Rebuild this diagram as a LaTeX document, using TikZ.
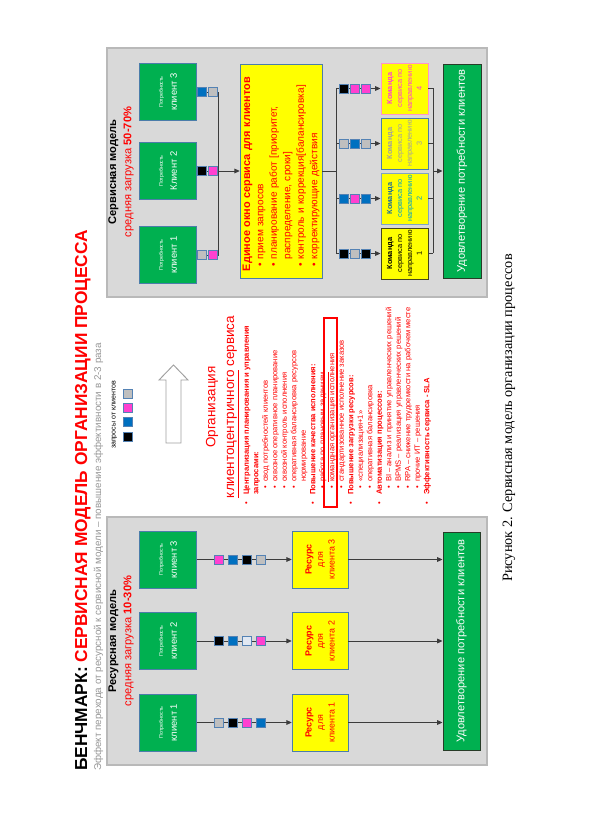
\documentclass[tikz,border=0pt]{standalone}
\usepackage{fontspec}
\setmainfont{Liberation Sans}
\newfontfamily\capfont{Liberation Serif}
\usetikzlibrary{arrows.meta}

\definecolor{slgreen}{RGB}{0,176,80}
\definecolor{slyellow}{RGB}{255,255,0}
\definecolor{panelgray}{RGB}{217,217,217}
\definecolor{panelline}{RGB}{185,185,185}
\definecolor{sqblue}{RGB}{0,112,192}
\definecolor{sqpink}{RGB}{255,64,208}
\definecolor{sqgray}{RGB}{191,191,191}
\definecolor{sqwhite}{RGB}{225,232,242}
\definecolor{sqedge}{RGB}{84,130,180}
\definecolor{boxedge}{RGB}{75,125,170}
\definecolor{satedge}{RGB}{40,60,40}
\definecolor{conn}{RGB}{60,60,60}
\definecolor{subgray}{RGB}{150,150,150}
\definecolor{tdark}{RGB}{31,110,150}
\definecolor{tlight}{RGB}{0,160,200}
\definecolor{tgray}{RGB}{160,160,160}
\definecolor{tpinkedge}{RGB}{255,150,200}
\definecolor{toneedge}{RGB}{70,70,30}

\newcommand{\topitem}[1]{\makebox[8.5pt][l]{\textbullet}#1}
\newcommand{\topcont}[1]{\hspace*{8.5pt}#1}
\newcommand{\lowitem}[1]{\hspace*{13.5pt}\makebox[6pt][l]{\textbullet}#1}
\newcommand{\lowcont}[1]{\hspace*{19.5pt}#1}
\newcommand{\winitem}[1]{\makebox[10pt][l]{\hspace{4pt}\textbullet}#1}

\begin{document}
\begin{tikzpicture}[x=0.03cm, y=-0.03cm,
    panel/.style={fill=panelgray, draw=panelline, line width=1pt},
    need/.style={rotate=90, fill=slgreen, draw=boxedge, minimum width=1.7cm, minimum height=1.7cm, align=center, text=white, inner sep=1pt, font=\fontsize{8}{12}\selectfont},
    res/.style={rotate=90, fill=slyellow, draw=boxedge, minimum width=1.71cm, minimum height=1.68cm, align=center, text=red, inner sep=1pt, font=\fontsize{7.6}{9.8}\selectfont},
    sat/.style={rotate=90, fill=slgreen, draw=satedge, line width=0.8pt, text=white, inner sep=1pt, font=\fontsize{9.5}{11}\selectfont},
    team/.style={rotate=90, fill=slyellow, minimum width=1.53cm, minimum height=1.41cm, align=center, inner sep=1pt, line width=0.8pt, font=\fontsize{6.3}{8.5}\selectfont},
    win/.style={rotate=90, fill=slyellow, draw=boxedge, minimum width=6.42cm, minimum height=2.46cm, text width=6.0cm, align=left, text=red, inner sep=1pt, font=\fontsize{8.6}{11.5}\selectfont},
    sq/.style={draw=sqedge, line width=0.5pt, minimum size=0.27cm, inner sep=0pt},
    wire/.style={draw=conn, line width=0.7pt},
    arrow/.style={wire, -{Triangle[length=1.6mm, width=1.4mm]}}
]
\useasboundingbox (0,0) rectangle (591,825);

% title
\node[rotate=90, anchor=base west, inner sep=0pt, font=\bfseries\fontsize{14.8}{17}\selectfont] (title) at (87,771) {БЕНЧМАРК: \textcolor{red}{СЕРВИСНАЯ МОДЕЛЬ ОРГАНИЗАЦИИ ПРОЦЕССА}};
\node[rotate=90, anchor=base west, inner sep=0pt, text=subgray, font=\fontsize{8.4}{10}\selectfont] (subtitle) at (101,771) {Эффект перехода от ресурсной к сервисной модели – повышение эффективности в 2-3 раза};

% service model
\draw[panel] (107,48) rectangle (487,297);
\node[rotate=90, align=center, font=\fontsize{9.5}{13}\selectfont] (stitle) at (121,172) {\textbf{Сервисная модель}\\\textcolor{red}{средняя загрузка \textbf{50-70\%}}};
\foreach \n/\y/\t in {1/255/клиент 1, 2/171/Клиент 2, 3/92/клиент 3}
  \node[need] (sn\n) at (168,\y) {{\fontsize{4.5}{5}\selectfont Потребность}\\\t};
\node[win] (win) at (281,171) {{\bfseries\fontsize{9.3}{11.5}\selectfont Единое окно сервиса для клиентов}\\
  \winitem{прием запросов}\\
  \winitem{планирование работ [приоритет,}\\
  \hspace*{10pt}распределение, сроки]\\
  \winitem{контроль и коррекция[балансировка]}\\
  \winitem{корректирующие действия}};
\node[team, draw=toneedge, text=black] (t1) at (404.5,253.5) {\textbf{Команда}\\сервиса по\\направлению\\1};
\node[team, draw=boxedge!70, text=tlight] (t2) at (404.5,198.5) {\textcolor{tdark}{\textbf{Команда}}\\сервиса по\\направлению\\2};
\node[team, draw=boxedge, text=tgray] (t3) at (404.5,143.5) {\textbf{Команда}\\сервиса по\\направлению\\3};
\node[team, draw=tpinkedge, text=sqpink] (t4) at (404.5,88.5) {\textbf{Команда}\\сервиса по\\направлению\\4};
\node[sat, minimum width=6.42cm, minimum height=1.14cm] (ss) at (462,171) {Удовлетворение потребности клиентов};

\coordinate (busa) at (218,171);
\coordinate (busb) at (336,171);
\coordinate (busc) at (433,171);
\draw[wire] (sn1) -- (sn1 -| busa) -- (sn3 -| busa) -- (sn3);
\draw[wire] (sn2) -- (busa);
\draw[arrow] (busa) -- (win);
\draw[wire] (win) -- (busb);
\draw[wire] (t4 -| busb) -- (t1 -| busb);
\draw[wire] (t4 -| busc) -- (t1 -| busc);
\foreach \n in {1,...,4} {
  \draw[arrow] (t\n -| busb) -- (t\n);
  \draw[wire] (t\n) -- (t\n -| busc);
}
\draw[arrow] (busc) -- (ss);

\foreach \n/\y/\a/\b in {1/255/sqgray/sqpink, 2/171/black/sqpink, 3/92/sqblue/sqgray} {
  \node[sq, fill=\a] (sq\n a) at (201.5,\y) {};
  \node[sq, fill=\b] (sq\n b) at (213,\y) {};
}
\foreach \n/\y/\a/\b/\c in {1/253.5/black/sqgray/black, 2/198.5/sqblue/sqpink/sqblue, 3/143.5/sqgray/sqblue/sqgray, 4/88.5/black/sqpink/sqpink}
  \foreach \col [count=\k] in {\a,\b,\c}
    \node[sq, fill=\col] (tq\n\k) at ({333+11*\k},\y) {};

% resource model
\draw[panel] (107,517) rectangle (487,765);
\node[rotate=90, align=center, font=\fontsize{9.5}{13}\selectfont] (rtitle) at (121,641) {\textbf{Ресурсная модель}\\\textcolor{red}{средняя загрузка \textbf{10-30\%}}};
\node[sat, minimum width=6.54cm, minimum height=1.11cm] (rs) at (461.5,641) {Удовлетворение потребности клиентов};
\foreach \n/\y in {1/722.5, 2/641, 3/559.5} {
  \node[need] (rn\n) at (168,\y) {{\fontsize{4.5}{5}\selectfont Потребность}\\клиент \n};
  \node[res] (rr\n) at (320,\y) {\textbf{Ресурс}\\для\\клиента \n};
  \draw[arrow] (rn\n) -- (rr\n);
  \draw[arrow] (rr\n) -- (rr\n -| rs.north);
}
\foreach \n/\y/\a/\b/\c/\d in {1/722.5/sqgray/black/sqpink/sqblue, 2/641/black/sqblue/sqwhite/sqpink, 3/559.5/sqpink/sqblue/black/sqgray}
  \foreach \col [count=\k] in {\a,\b,\c,\d}
    \node[sq, fill=\col] (rq\n\k) at ({204.3+14.2*\k},\y) {};

% transition
\node[rotate=90, font=\fontsize{6}{7}\selectfont] (legend) at (114.5,415) {запросы от клиентов};
\foreach \col/\y [count=\k] in {sqgray/394, sqpink/408, sqblue/422, black/437}
  \node[sq, fill=\col] (lq\k) at (127.5,\y) {};
\draw[draw=tgray, fill=white, line width=0.8pt] (166,443) -- (166,380) -- (159,380) -- (173.5,365) -- (188,380) -- (181,380) -- (181,443) -- cycle;
\node[rotate=90, align=center, text=red, font=\fontsize{11.5}{16}\selectfont] (org) at (222.5,407) {Организация\\\underline{клиентоцентричного} сервиса};
\node[rotate=90, anchor=north west, align=left, text=red, inner sep=0pt, font=\fontsize{6.5}{8.1}\selectfont] (plan) at (243.5,505) {%
  \topitem{\textbf{Централизация планирования и управления}}\\
  \topcont{\textbf{запросами:}}\\
  \lowitem{свод потребностей клиентов}\\
  \lowitem{сквозное оперативное планирование}\\
  \lowitem{сквозной контроль исполнения}\\
  \lowitem{оперативная балансировка ресурсов}\\
  \lowcont{нормирование}\\
  \topitem{\textbf{Повышение качества исполнения:}}\\
  \lowitem{\underline{работа по плановым заданиям}}\\
  \lowitem{командная организация исполнения}\\
  \lowitem{стандартизованное исполнение заказов}\\
  \topitem{\textbf{Повышение загрузки ресурсов:}}\\
  \lowitem{«специализация+1»}\\
  \lowitem{оперативная балансировка}\\
  \topitem{\textbf{Автоматизация процессов:}}\\
  \lowitem{BI – анализ и принятие управленческих решений}\\
  \lowitem{BPMS – реализация управленческих решений}\\
  \lowitem{RPA – снижение трудоемкости на рабочем месте}\\
  \lowitem{прочие ИТ – решения}\\
  \topitem{\textbf{Эффективность сервиса - SLA}}};
\node[rotate=90, draw=red, line width=1pt, minimum width=5.67cm, minimum height=0.39cm, inner sep=0pt] (hlbox) at (330.5,412.5) {};

% caption
\node[rotate=90, font=\capfont\fontsize{12.2}{15}\selectfont] (cap) at (509,418) {Рисунок 2. Сервисная модель организации процессов};
\end{tikzpicture}
\end{document}
